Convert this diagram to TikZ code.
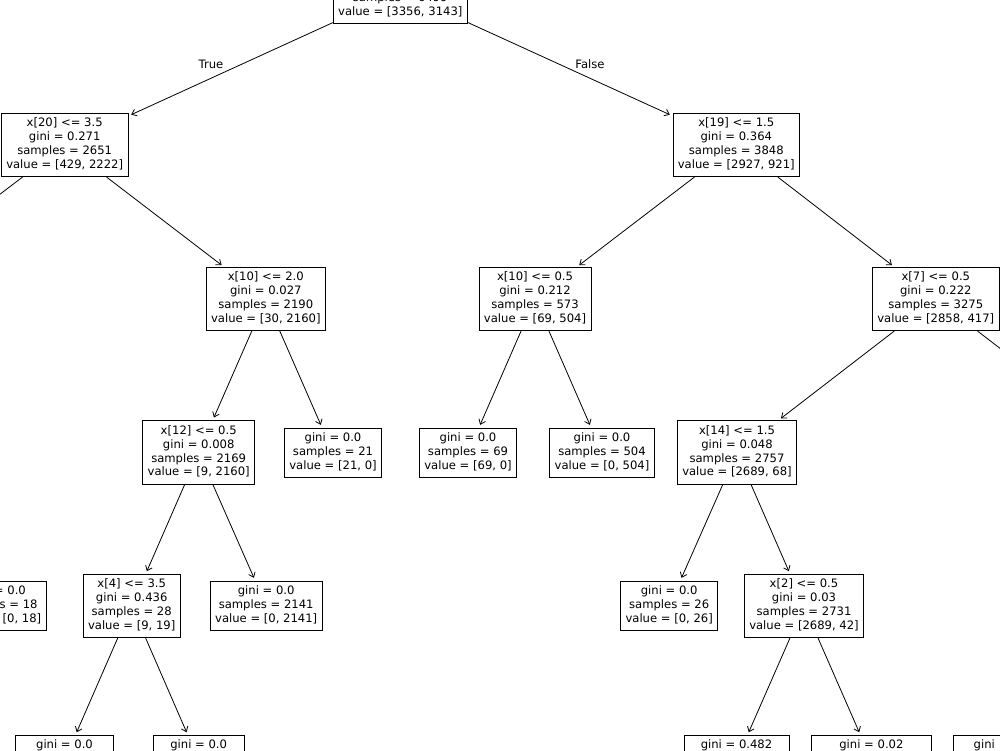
\documentclass[tikz,border=0pt]{standalone}
\usepackage{fontspec}
\setmainfont{DejaVu Sans}
\usetikzlibrary{arrows.meta}
\begin{document}
\begin{tikzpicture}[x=1pt,y=-1pt,
  tn/.style={draw=black, line width=0.8pt, fill=white, font=\fontsize{11.6}{13.9}\selectfont,
    align=center, inner xsep=4.9pt, inner ysep=3.85pt, text=black},
  edge/.style={-{Straight Barb[length=4.5pt,width=7pt]}, line width=0.8pt, shorten >=3pt},
  lbl/.style={font=\fontsize{11.6}{13.9}\selectfont, inner sep=0pt, text=black}]
\useasboundingbox (0,0) rectangle (1000,750);
\fill[white] (0,0) rectangle (1000,750);
\clip (0,0) rectangle (1000,750);

% row 0
\node[tn] (root) at (400.3,-8.2) {\strut\\\strut\\\strut samples = 6499\\\strut value = [3356, 3143]};
% row 1
\node[tn] (x20) at (64.7,145) {\strut x[20] <= 3.5\\\strut gini = 0.271\\\strut samples = 2651\\\strut value = [429, 2222]};
\node[tn] (x19) at (736.3,145) {\strut x[19] <= 1.5\\\strut gini = 0.364\\\strut samples = 3848\\\strut value = [2927, 921]};
% row 2
\coordinate (c20L) at (-138,299);
\node[tn] (x10a) at (265.8,299) {\strut x[10] <= 2.0\\\strut gini = 0.027\\\strut samples = 2190\\\strut value = [30, 2160]};
\node[tn] (x10b) at (535,299) {\strut x[10] <= 0.5\\\strut gini = 0.212\\\strut samples = 573\\\strut value = [69, 504]};
\node[tn] (x7) at (935.8,299) {\strut x[7] <= 0.5\\\strut gini = 0.222\\\strut samples = 3275\\\strut value = [2858, 417]};
% row 3
\node[tn] (x12) at (198.7,452.3) {\strut x[12] <= 0.5\\\strut gini = 0.008\\\strut samples = 2169\\\strut value = [9, 2160]};
\node[tn] (l21) at (333,452.7) {\strut gini = 0.0\\\strut samples = 21\\\strut value = [21, 0]};
\node[tn] (l69) at (468,452.7) {\strut gini = 0.0\\\strut samples = 69\\\strut value = [69, 0]};
\node[tn] (l504) at (602,452.7) {\strut gini = 0.0\\\strut samples = 504\\\strut value = [0, 504]};
\node[tn] (x14) at (737,452.3) {\strut x[14] <= 1.5\\\strut gini = 0.048\\\strut samples = 2757\\\strut value = [2689, 68]};
\coordinate (c7R) at (1135,452);
% row 4
\node[tn] (l18) at (-2.5,605.7) {\strut gini = 0.0\\\strut samples = 18\\\strut value = [0, 18]};
\node[tn] (x4) at (131.7,606) {\strut x[4] <= 3.5\\\strut gini = 0.436\\\strut samples = 28\\\strut value = [9, 19]};
\node[tn] (l2141) at (266.2,605.7) {\strut gini = 0.0\\\strut samples = 2141\\\strut value = [0, 2141]};
\node[tn] (l26) at (669.2,605.7) {\strut gini = 0.0\\\strut samples = 26\\\strut value = [0, 26]};
\node[tn] (x2) at (804,606) {\strut x[2] <= 0.5\\\strut gini = 0.03\\\strut samples = 2731\\\strut value = [2689, 42]};
% row 5
\node[tn, anchor=north, minimum width=97.6pt] (lA) at (64.5,735) {\strut gini = 0.0\\\strut\\\strut};
\node[tn, anchor=north, minimum width=90.7pt] (lB) at (198.7,735) {\strut gini = 0.0\\\strut\\\strut};
\node[tn, anchor=north, minimum width=105pt] (lC) at (736.5,735) {\strut gini = 0.482\\\strut\\\strut};
\node[tn, anchor=north, minimum width=119.3pt] (lD) at (871.4,735) {\strut gini = 0.02\\\strut\\\strut};
\node[tn, anchor=north west, align=left, text width=80pt, inner xsep=20pt] (lE) at (953.3,735) {\strut gini\\\strut\\\strut};

% labels
\node[lbl] (tTrue) at (211,64) {True};
\node[lbl] (tFalse) at (590,64) {False};

% edges
\draw[edge] (root) -- (x20);
\draw[edge] (root) -- (x19);
\draw[edge] (x20) -- (c20L);
\draw[edge] (x20) -- (x10a);
\draw[edge] (x19) -- (x10b);
\draw[edge] (x19) -- (x7);
\draw[edge] (x10a) -- (x12);
\draw[edge] (x10a) -- (l21);
\draw[edge] (x10b) -- (l69);
\draw[edge] (x10b) -- (l504);
\draw[edge] (x7) -- (x14);
\draw[edge] (x7) -- (c7R);
\draw[edge] (x12) -- (x4);
\draw[edge] (x12) -- (l2141);
\draw[edge] (x14) -- (l26);
\draw[edge] (x14) -- (x2);
\draw[edge] (x4) -- (lA);
\draw[edge] (x4) -- (lB);
\draw[edge] (x2) -- (lC);
\draw[edge] (x2) -- (lD);
\end{tikzpicture}
\end{document}
